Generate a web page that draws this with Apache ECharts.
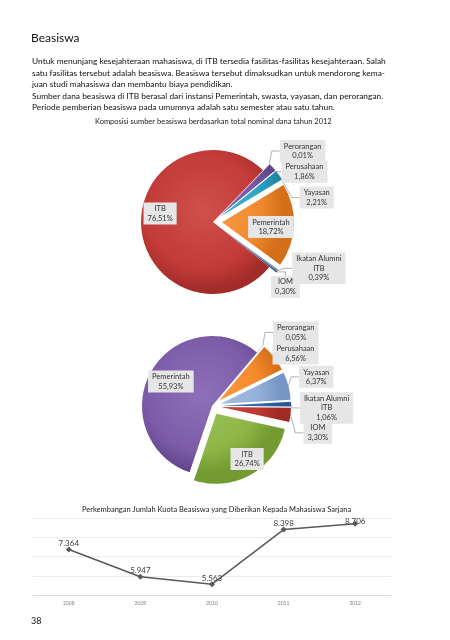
<!DOCTYPE html>
<html>
<head>
<meta charset="utf-8">
<script src="https://cdn.jsdelivr.net/npm/echarts@6/dist/echarts.min.js"></script>
<style>
  html, body { margin: 0; padding: 0; background: #fff; }
  #chart { width: 450px; height: 640px; }
</style>
</head>
<body>
<div id="chart"></div>
<script>
// komposisi sumber beasiswa 2012 (total nominal dana), urutan searah jarum jam
const namesDana = ['Perorangan', 'Perusahaan', 'Yayasan', 'Pemerintah', 'Ikatan Alumni\nITB', 'IOM', 'ITB']
const valuesDana = [0.01, 1.86, 2.21, 18.72, 0.39, 0.30, 76.51]

// komposisi kedua (jumlah penerima)
const namesKuota = ['Perorangan', 'Perusahaan', 'Yayasan', 'Ikatan Alumni\nITB', 'IOM', 'ITB', 'Pemerintah']
const valuesKuota = [0.05, 6.56, 6.37, 1.06, 3.30, 26.74, 55.93]

// perkembangan jumlah kuota beasiswa
const years = ['2008', '2009', '2010', '2011', '2012']
const quota = [7364, 5947, 5563, 8398, 8706]

const paragraph = [
  'Untuk menunjang kesejahteraan mahasiswa, di ITB tersedia fasilitas-fasilitas kesejahteraan. Salah',
  'satu fasilitas tersebut adalah beasiswa. Beasiswa tersebut dimaksudkan untuk mendorong kema-',
  'juan studi mahasiswa dan membantu biaya pendidikan.',
  'Sumber dana beasiswa di ITB berasal dari instansi Pemerintah, swasta, yayasan, dan perorangan.',
  'Periode pemberian beasiswa pada umumnya adalah satu semester atau satu tahun.'
]

const FONT = 'Lato, "Open Sans", sans-serif'

const paletteDana = {
  'ITB': ['#cf504c', '#c23b38', '#a22c2a'],
  'Pemerintah': ['#f7a050', '#f18a2d', '#d36f19'],
  'Perusahaan': ['#876bb2', '#7658a2', '#5f4488'],
  'Yayasan': ['#45b8d3', '#2fa4c5', '#1f87a6'],
  'Ikatan Alumni\nITB': ['#a2b7d7', '#8ea6cc', '#7189b2'],
  'IOM': ['#4569a0', '#3a5d8f', '#2c4a75'],
  'Perorangan': ['#a0bedc', '#8fb0d4', '#7394ba']
}
const paletteKuota = {
  'Pemerintah': ['#8d70b8', '#7c5ca8', '#62448c'],
  'ITB': ['#9fc459', '#8db647', '#749b31'],
  'IOM': ['#cc4842', '#c13a31', '#a02b26'],
  'Ikatan Alumni\nITB': ['#3a7bc0', '#2f6cb0', '#245896'],
  'Yayasan': ['#a9c0e3', '#95b1db', '#7595c5'],
  'Perusahaan': ['#f99c46', '#f68b2c', '#d8711a'],
  'Perorangan': ['#50afc8', '#3fa5c0', '#2c89a2']
}

// how far each slice is pulled out of the pie (px)
const explodeDana = { 'ITB': 0 }
const explodeKuota = { 'Pemerintah': 0 }
const EXPLODE = 9

// label nudges (px) relative to the library's own label placement
const nudgeDana = {
  'Perorangan': [-8, -7], 'Perusahaan': [-10, 10], 'Yayasan': [1, 27],
  'Ikatan Alumni\nITB': [-5, -7], 'IOM': [-25, 10],
  'Pemerintah': [10, 3], 'ITB': [-14, -11]
}
const nudgeKuota = {
  'Perorangan': [-8, -7], 'Perusahaan': [-21, 1], 'Yayasan': [-10, -7],
  'Ikatan Alumni\nITB': [-12, 4], 'IOM': [-8, 17],
  'Pemerintah': [-8, -6], 'ITB': [12, 12]
}

const fmtPct = v => v.toFixed(2).replace('.', ',') + '%'
const fmtThousand = v => String(v).replace(/\B(?=(\d{3})+(?!\d))/g, '.')

const grad = (c, r, stops) => new echarts.graphic.RadialGradient(
  c[0] - 10, c[1] - 12, r * 1.12,
  [
    { offset: 0, color: stops[0] },
    { offset: 0.72, color: stops[1] },
    { offset: 1, color: stops[2] }
  ],
  true
)

// one pie series per slice, so each slice can sit on its own pulled-out centre
const makePie = (names, values, palette, explode, nudge, center, radius, startAngle, inside) => {
  const total = values.reduce((a, b) => a + b, 0)
  let acc = 0
  return names.map((name, k) => {
    const mid = (startAngle - (acc + values[k] / 2) / total * 360) * Math.PI / 180
    acc += values[k]
    const off = explode[name] != null ? explode[name] : EXPLODE
    const c = [center[0] + off * Math.cos(mid), center[1] - off * Math.sin(mid)]
    const isInside = inside.includes(name)
    const d = nudge[name] || [0, 0]
    return {
      type: 'pie',
      center: c,
      radius,
      startAngle,
      silent: true,
      animation: false,
      emphasis: { disabled: true },
      label: {
        position: isInside ? 'inside' : 'outside',
        alignTo: 'none',
        fontFamily: FONT,
        fontSize: 7.5,
        lineHeight: 9.5,
        color: '#333',
        backgroundColor: '#e6e6e6',
        padding: [2, 4, 1, 4],
        formatter: p => p.name + '\n' + fmtPct(p.value)
      },
      labelLine: {
        show: !isInside,
        length: 8,
        length2: 8,
        lineStyle: { color: '#7f7f7f', width: 0.6 }
      },
      labelLayout: p => ({
        x: p.labelRect.x + p.labelRect.width / 2 + d[0],
        y: p.labelRect.y + p.labelRect.height / 2 + d[1],
        align: 'center',
        verticalAlign: 'middle'
      }),
      data: names.map((n, j) => j === k
        ? { name: n, value: values[j], itemStyle: { color: grad(center, radius, palette[n]) } }
        : {
            name: n, value: values[j],
            itemStyle: { color: 'rgba(0,0,0,0)', borderWidth: 0 },
            label: { show: false }, labelLine: { show: false }
          })
    }
  })
}

const chart = echarts.init(document.getElementById('chart'))

chart.setOption({
  animation: false,
  backgroundColor: '#fff',
  title: [
    {
      text: 'Beasiswa', left: 31, top: 32, padding: 0,
      textStyle: { fontFamily: FONT, fontSize: 12, fontWeight: 'normal', color: '#111' }
    },
    {
      text: paragraph.join('\n'), left: 32, top: 56, padding: 0,
      textStyle: { fontFamily: FONT, fontSize: 8.4, lineHeight: 11.5, fontWeight: 'normal', color: '#111' }
    },
    {
      text: 'Komposisi sumber beasiswa berdasarkan total nominal dana tahun 2012',
      left: 95, top: 118, padding: 0,
      textStyle: { fontFamily: FONT, fontSize: 7.5, fontWeight: 'normal', color: '#222' }
    },
    {
      text: 'Perkembangan Jumlah Kuota Beasiswa yang Diberikan Kepada Mahasiswa Sarjana',
      left: 82, top: 506, padding: 0,
      textStyle: { fontFamily: FONT, fontSize: 7.5, fontWeight: 'normal', color: '#222' }
    },
    {
      text: '38', left: 31, top: 617, padding: 0,
      textStyle: { fontFamily: FONT, fontSize: 9, fontWeight: 'normal', color: '#111' }
    }
  ],
  grid: { left: 33, right: 59, top: 518, bottom: 45 },
  xAxis: {
    type: 'category',
    data: years,
    boundaryGap: true,
    axisLine: { lineStyle: { color: '#d9d9d9' } },
    axisTick: { lineStyle: { color: '#d9d9d9' } },
    axisLabel: { fontFamily: FONT, fontSize: 5, color: '#808080', margin: 6 }
  },
  yAxis: {
    type: 'value',
    min: 5000,
    max: 9000,
    interval: 1000,
    axisLabel: { show: false },
    axisLine: { show: false },
    axisTick: { show: false },
    splitLine: { lineStyle: { color: '#ebebeb' } }
  },
  series: [
    ...makePie(namesDana, valuesDana, paletteDana, explodeDana, nudgeDana, [213, 222], 72, 46, ['ITB', 'Pemerintah']),
    ...makePie(namesKuota, valuesKuota, paletteKuota, explodeKuota, nudgeKuota, [212, 406], 70, 50, ['ITB', 'Pemerintah']),
    {
      type: 'line',
      // the last label sits on the line, pushed down by the top of the plot
      data: quota.map((v, i) => i === quota.length - 1
        ? { value: v, label: { distance: -5 } }
        : v),
      symbol: 'diamond',
      symbolSize: 6,
      itemStyle: { color: '#595959' },
      lineStyle: { color: '#595959', width: 1.5 },
      label: {
        show: true,
        position: 'top',
        distance: -1,
        fontFamily: FONT,
        fontSize: 8,
        color: '#404040',
        formatter: p => fmtThousand(p.value)
      }
    }
  ]
})
</script>
</body>
</html>
